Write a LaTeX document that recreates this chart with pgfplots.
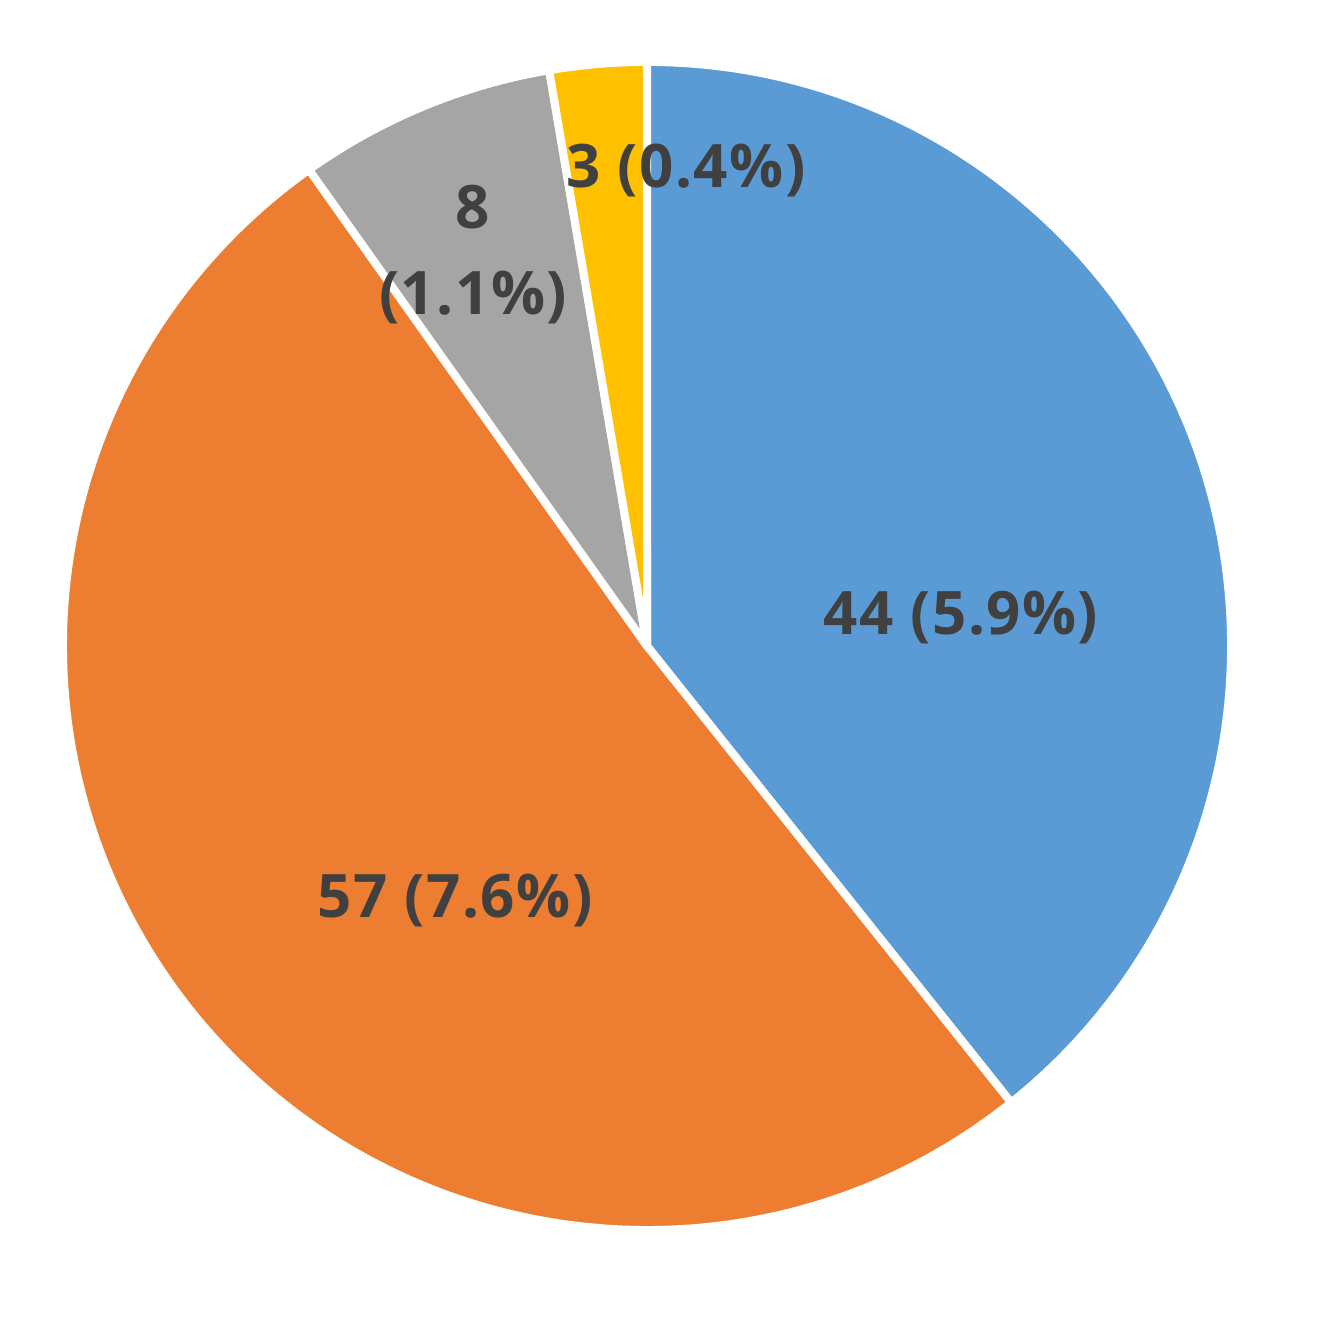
\documentclass[border=0pt]{standalone}
\usepackage{pgfplots}
\usepackage{pgfplotstable}
\pgfplotsset{compat=1.18}
\usepackage{fontspec}
\setmainfont{Open Sans}[LetterSpace=2.5]
\definecolor{pieblue}{HTML}{5B9BD5}
\definecolor{pieorange}{HTML}{ED7D31}
\definecolor{piegray}{HTML}{A5A5A5}
\definecolor{pieyellow}{HTML}{FFC000}
\definecolor{labeltext}{HTML}{404040}

\pgfplotstableread{
cat value
A 44
B 57
C 8
D 3
}\piedata

\begin{document}
\begin{tikzpicture}
\pgfplotstablegetelem{0}{value}\of\piedata \let\va\pgfplotsretval
\pgfplotstablegetelem{1}{value}\of\piedata \let\vb\pgfplotsretval
\pgfplotstablegetelem{2}{value}\of\piedata \let\vc\pgfplotsretval
\pgfplotstablegetelem{3}{value}\of\piedata \let\vd\pgfplotsretval
\pgfmathsetmacro\total{\va+\vb+\vc+\vd}
\pgfmathsetmacro\aA{90}
\pgfmathsetmacro\aB{\aA-360*(\va/\total)}
\pgfmathsetmacro\aC{\aB-360*(\vb/\total)}
\pgfmathsetmacro\aD{\aC-360*(\vc/\total)}
\pgfmathsetmacro\aE{\aD-360*(\vd/\total)}
\begin{axis}[
  width=396.9pt, height=398.4pt, scale only axis,
  xmin=-1.1155, xmax=1.1655, ymin=-1.1759, ymax=1.1138,
  hide axis, clip=false,
]
\path (rel axis cs:0,0) rectangle (rel axis cs:1,1);
\filldraw[fill=pieblue, draw=white, line width=2.4pt, line join=round]
  (axis cs:0,0) -- (axis cs:{1.007*cos(\aA)},{1.007*sin(\aA)}) arc[start angle=\aA, end angle=\aB, radius=1.007] -- cycle;
\filldraw[fill=pieorange, draw=white, line width=2.4pt, line join=round]
  (axis cs:0,0) -- (axis cs:{1.007*cos(\aB)},{1.007*sin(\aB)}) arc[start angle=\aB, end angle=\aC, radius=1.007] -- cycle;
\filldraw[fill=piegray, draw=white, line width=2.4pt, line join=round]
  (axis cs:0,0) -- (axis cs:{1.007*cos(\aC)},{1.007*sin(\aC)}) arc[start angle=\aC, end angle=\aD, radius=1.007] -- cycle;
\filldraw[fill=pieyellow, draw=white, line width=2.4pt, line join=round]
  (axis cs:0,0) -- (axis cs:{1.007*cos(\aD)},{1.007*sin(\aD)}) arc[start angle=\aD, end angle=\aE, radius=1.007] -- cycle;
\begin{scope}[every node/.style={anchor=base, inner sep=0pt, text=labeltext, font=\fontsize{18}{22}\selectfont\bfseries}]
\node at (axis cs:0.541,0.019) {44 (5.9\%)};
\node at (axis cs:-0.331,-0.469) {57 (7.6\%)};
\node at (axis cs:-0.300,0.719) {8};
\node at (axis cs:-0.300,0.571) {(1.1\%)};
\node at (axis cs:0.067,0.791) {3 (0.4\%)};
\end{scope}
\end{axis}
\end{tikzpicture}
\end{document}
